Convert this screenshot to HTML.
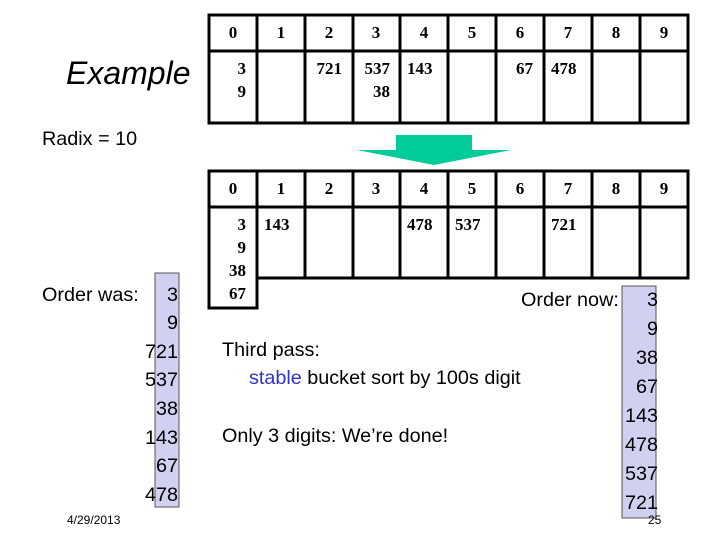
<!DOCTYPE html>
<html><head><meta charset="utf-8"><style>
html,body{margin:0;padding:0;background:#fff;}
svg{display:block;}
.h{font-family:"Liberation Serif",serif;font-weight:bold;font-size:17px;}
.s{font-family:"Liberation Sans",sans-serif;font-size:19.8px;}
</style></head><body>
<svg width="720" height="540" viewBox="0 0 720 540">
<g fill="none" stroke="#000" stroke-width="3">
<rect x="209" y="15" width="479" height="108"/>
<line x1="209" y1="51" x2="688" y2="51"/>
<line x1="257" y1="15" x2="257" y2="123"/><line x1="305" y1="15" x2="305" y2="123"/><line x1="353" y1="15" x2="353" y2="123"/><line x1="400" y1="15" x2="400" y2="123"/><line x1="448" y1="15" x2="448" y2="123"/><line x1="496" y1="15" x2="496" y2="123"/><line x1="544" y1="15" x2="544" y2="123"/><line x1="592" y1="15" x2="592" y2="123"/><line x1="640" y1="15" x2="640" y2="123"/>
<polyline points="209,171 688,171 688,278 257,278"/>
<line x1="209" y1="169.5" x2="209" y2="309.5"/>
<line x1="209" y1="207" x2="688" y2="207"/>
<line x1="257" y1="171" x2="257" y2="309.5"/><line x1="305" y1="171" x2="305" y2="278"/><line x1="353" y1="171" x2="353" y2="278"/><line x1="400" y1="171" x2="400" y2="278"/><line x1="448" y1="171" x2="448" y2="278"/><line x1="496" y1="171" x2="496" y2="278"/><line x1="544" y1="171" x2="544" y2="278"/><line x1="592" y1="171" x2="592" y2="278"/><line x1="640" y1="171" x2="640" y2="278"/>
<line x1="207.5" y1="308" x2="258.5" y2="308"/>
</g>
<g class="h" text-anchor="middle">
<text x="233" y="38">0</text><text x="281" y="38">1</text><text x="329" y="38">2</text><text x="376" y="38">3</text><text x="424" y="38">4</text><text x="472" y="38">5</text><text x="520" y="38">6</text><text x="568" y="38">7</text><text x="616" y="38">8</text><text x="664" y="38">9</text>
<text x="233" y="194">0</text><text x="281" y="194">1</text><text x="329" y="194">2</text><text x="376" y="194">3</text><text x="424" y="194">4</text><text x="472" y="194">5</text><text x="520" y="194">6</text><text x="568" y="194">7</text><text x="616" y="194">8</text><text x="664" y="194">9</text>
</g>
<g class="h" text-anchor="end">
<text x="246" y="74">3</text><text x="246" y="97">9</text>
<text x="342" y="74">721</text><text x="390" y="74">537</text><text x="390" y="97">38</text>
<text x="533" y="74">67</text>
<text x="246" y="230">3</text><text x="246" y="253">9</text><text x="246" y="276">38</text><text x="246" y="299">67</text>
</g>
<g class="h">
<text x="407" y="74">143</text><text x="551" y="74">478</text>
<text x="264" y="230">143</text><text x="407" y="230">478</text><text x="455" y="230">537</text><text x="551" y="230">721</text>
</g>
<polygon points="396,135 472,135 472,150 511,150 434,165 357,150 396,150" fill="#00cc99"/>
<text x="66" y="84" font-family="Liberation Sans,sans-serif" font-style="italic" font-size="32">Example</text>
<text x="42" y="145" class="s">Radix = 10</text>
<text x="42" y="301" class="s">Order was:</text>
<text x="521" y="306" class="s">Order now:</text>
<rect x="155" y="273" width="24" height="234" fill="#d0d0f0" stroke="#555" stroke-width="1"/>
<rect x="622" y="286" width="34" height="232" fill="#d0d0f0" stroke="#555" stroke-width="1"/>
<g class="s" text-anchor="end">
<text x="178" y="301">3</text><text x="178" y="329">9</text><text x="178" y="358">721</text><text x="178" y="386">537</text><text x="178" y="415">38</text><text x="178" y="444">143</text><text x="178" y="472">67</text><text x="178" y="501">478</text>
<text x="658" y="306">3</text><text x="658" y="335">9</text><text x="658" y="364">38</text><text x="658" y="393">67</text><text x="658" y="422">143</text><text x="658" y="451">478</text><text x="658" y="480">537</text><text x="658" y="509">721</text>
</g>
<text x="222" y="356" class="s">Third pass:</text>
<text x="249" y="384" class="s"><tspan fill="#3333cc">stable</tspan> bucket sort by 100s digit</text>
<text x="222" y="442" class="s">Only 3 digits: We’re done!</text>
<text x="67" y="524" font-family="Liberation Sans,sans-serif" font-size="12">4/29/2013</text>
<text x="648" y="524" font-family="Liberation Sans,sans-serif" font-size="12">25</text>
</svg>
</body></html>
